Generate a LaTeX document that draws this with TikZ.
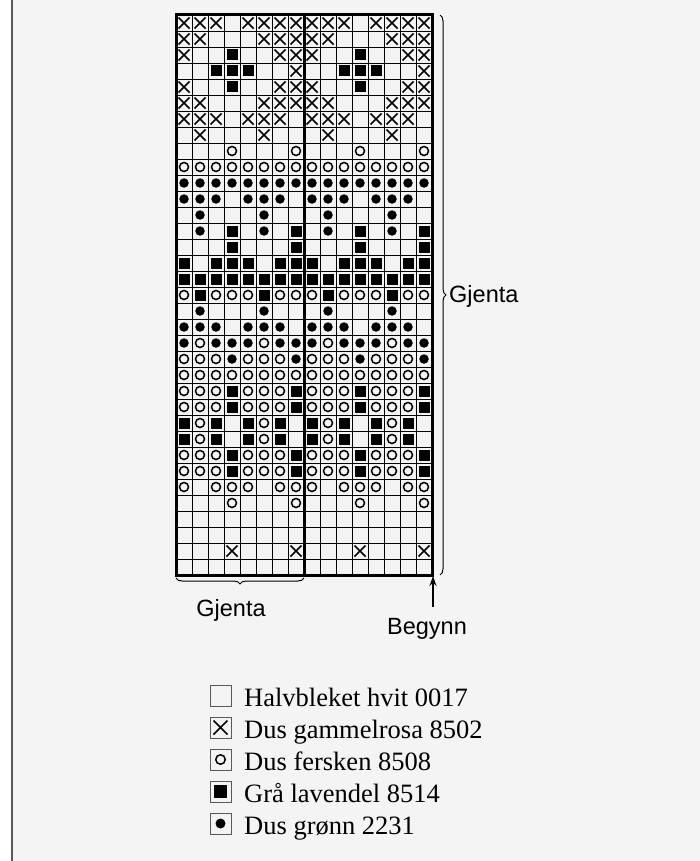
\documentclass[tikz,border=0pt]{standalone}
\usepackage{fontspec}
\setmainfont{Liberation Serif}
\setsansfont{Liberation Sans}
\usetikzlibrary{shapes.misc,decorations.pathreplacing,arrows.meta}
\definecolor{paper}{HTML}{F3F4F3}
\tikzset{
  xsym/.style={cross out, draw, line width=1.5pt, inner sep=0pt, minimum size=9.5pt},
  osym/.style={circle, draw, line width=1.5pt, inner sep=0pt, minimum size=9pt},
  bsym/.style={rectangle, fill, inner sep=0pt, minimum size=11pt},
  dsym/.style={circle, fill, inner sep=0pt, minimum size=9.5pt},
  thick rule/.style={line width=3pt},
  repeat brace/.style={decorate, decoration={brace, amplitude=6pt}, line width=1pt},
  chart label/.style={font=\sffamily\fontsize{23.5}{28}\selectfont, inner sep=0pt},
  keybox/.style={rectangle, draw=black!65, line width=1pt, fill=paper, inner sep=0pt, minimum size=21pt},
  key text/.style={font=\fontsize{26.5}{30}\selectfont, anchor=base west, inner sep=0pt}
}
\begin{document}
\begin{tikzpicture}[x=1pt, y=-1pt]
\useasboundingbox (0,0) rectangle (700,861);
% Panel
\fill[paper] (12,0) rectangle (700,861);
\draw[black!65, line width=1.5pt] (12,0) -- (12,861);
% Grid: 16 stitches x 35 rows, cell 16pt
\foreach \i in {1,...,15}
  \draw[line width=0.9pt] (176+16*\i,15) -- ++(0,560);
\foreach \j in {1,...,34}
  \draw[line width=0.9pt] (176,15+16*\j) -- ++(256,0);
% Symbols, one 8-stitch repeat per row, drawn twice
\foreach \pat [count=\r] in {
    {x,x,x,e,x,x,x,x}, {x,x,e,e,e,x,x,x}, {x,e,e,B,e,e,x,x}, {e,e,B,B,B,e,e,x},
    {x,e,e,B,e,e,x,x}, {x,x,e,e,e,x,x,x}, {x,x,x,e,x,x,x,e}, {e,x,e,e,e,x,e,e},
    {e,e,e,o,e,e,e,o}, {o,o,o,o,o,o,o,o}, {d,d,d,d,d,d,d,d}, {d,d,d,e,d,d,d,e},
    {e,d,e,e,e,d,e,e}, {e,d,e,B,e,d,e,B}, {e,e,e,B,e,e,e,B}, {B,e,B,B,B,e,B,B},
    {B,B,B,B,B,B,B,B}, {o,B,o,o,o,B,o,o}, {e,d,e,e,e,d,e,e}, {d,d,d,e,d,d,d,e},
    {d,o,d,d,d,o,d,d}, {o,o,o,d,o,o,o,d}, {o,o,o,o,o,o,o,o}, {o,o,o,B,o,o,o,B},
    {o,o,o,B,o,o,o,B}, {B,o,B,e,B,o,B,e}, {B,o,B,e,B,o,B,e}, {o,o,o,B,o,o,o,B},
    {o,o,o,B,o,o,o,B}, {o,e,o,o,o,e,o,o}, {e,e,e,o,e,e,e,o}, {e,e,e,e,e,e,e,e},
    {e,e,e,e,e,e,e,e}, {e,e,e,x,e,e,e,x}, {e,e,e,e,e,e,e,e}}{
  \foreach \s [count=\c] in \pat {
    \foreach \h in {0,8}{
      \pgfmathsetmacro\xc{168+16*(\c+\h)}
      \pgfmathsetmacro\yc{7+16*\r}
      \if x\s \node[xsym] at (\xc,\yc) {};\fi
      \if o\s \node[osym] at (\xc,\yc) {};\fi
      \if B\s \node[bsym] at (\xc,\yc) {};\fi
      \if d\s \node[dsym] at (\xc,\yc) {};\fi
    }
  }
}
% Outline and repeat line
\draw[thick rule] (176,15) rectangle (432,575);
\draw[thick rule] (304,15) -- (304,575);
% Braces
\coordinate (rtop) at (440,15);
\coordinate (rbot) at (440,575);
\coordinate (bright) at (304,578);
\coordinate (bleft) at (176,578);
\draw[repeat brace] (rtop) -- (rbot);
\draw[repeat brace] (bright) -- (bleft);
\node[chart label, anchor=west] (gjentaR) at (449,296) {Gjenta};
\node[chart label, anchor=base] (gjentaB) at (231,616) {Gjenta};
% Start arrow
\coordinate (start) at (433,576);
\coordinate (tail) at (433,607);
\draw[line width=1.8pt, -{Stealth[length=10pt, width=7pt]}] (tail) -- (start);
\node[chart label, anchor=base] (begynn) at (427,634) {Begynn};
% Key
\foreach \s/\txt [count=\i from 0] in {e/Halvbleket hvit 0017, x/Dus gammelrosa 8502,
    o/Dus fersken 8508, B/Grå lavendel 8514, d/Dus grønn 2231}{
  \pgfmathsetmacro\yk{706+32*\i}
  \node[keybox] (key\i) at (220.5,\yk-10.5) {};
  \if x\s \node[xsym, minimum size=12.5pt] at (key\i) {};\fi
  \if o\s \node[osym, minimum size=9.5pt] at (key\i) {};\fi
  \if B\s \node[bsym, minimum size=13.5pt] at (key\i) {};\fi
  \if d\s \node[dsym, minimum size=10pt] at (key\i) {};\fi
  \node[key text] (keytext\i) at (244,\yk) {\txt};
}
\end{tikzpicture}
\end{document}
